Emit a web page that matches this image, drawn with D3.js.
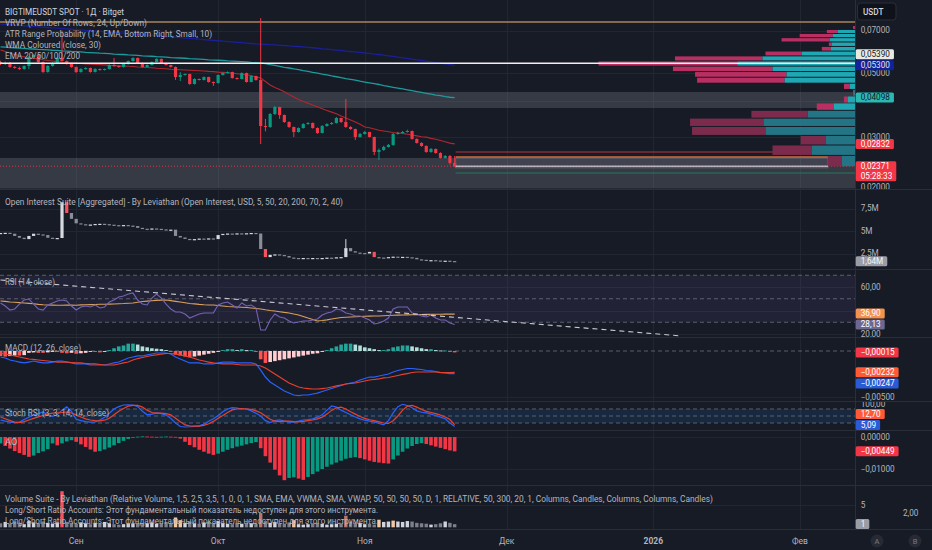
<!DOCTYPE html>
<html><head><meta charset="utf-8">
<script src="https://cdn.jsdelivr.net/npm/d3@7/dist/d3.min.js"></script>
<style>
html,body{margin:0;padding:0;background:#171b26;overflow:hidden}
svg{display:block;font-family:Roboto,"Noto Sans",sans-serif}
</style></head><body>
<svg id="chart" width="932" height="550"></svg>
<script>
// ================= DATA =================
const startDay = "2025-08-16";
const axisEndDay = "2026-02-01";
const monthNames = ["Янв","Фев","Мар","Апр","Май","Июн","Июл","Авг","Сен","Окт","Ноя","Дек"];

const firstOpen = 0.05444;
const closes = [0.05358,0.05401,0.05231,0.05190,0.05148,0.05273,0.05666,0.05757,0.05444,0.05027,
 0.05273,0.05401,0.05621,0.05488,0.05358,0.05231,0.05027,0.05148,0.05190,0.05027,
 0.05148,0.05108,0.05148,0.05315,0.05273,0.05231,0.05358,0.05488,0.05621,0.05401,
 0.05231,0.05315,0.05444,0.05576,0.05401,0.05315,0.05231,0.04830,0.04908,0.04947,
 0.04568,0.04754,0.04716,0.04830,0.04641,0.04604,0.04908,0.04987,0.05027,0.04792,
 0.04754,0.04987,0.04641,0.04869,0.04716,0.03267,0.03241,0.03595,0.03802,0.03566,
 0.03373,0.03241,0.03114,0.03215,0.03319,0.03346,0.03215,0.03090,0.03267,0.03319,
 0.03346,0.03482,0.03373,0.03241,0.03190,0.02993,0.03065,0.03114,0.02993,0.02655,
 0.02698,0.02764,0.02808,0.03065,0.03090,0.03114,0.03139,0.02946,0.02853,0.02786,
 0.02655,0.02720,0.02634,0.02532,0.02572,0.02433,0.02371];
const highs = [0.0550,0.0546,0.0545,0.0528,0.0524,0.0530,0.0571,0.0580,0.0578,0.0547,
 0.0531,0.0543,0.0566,0.0700,0.0551,0.0538,0.0525,0.0518,0.0522,0.0521,
 0.0518,0.0517,0.0517,0.0535,0.0562,0.0530,0.0538,0.0551,0.0565,0.0564,
 0.0542,0.0534,0.0547,0.0561,0.0560,0.0542,0.0533,0.0525,0.0502,0.0497,
 0.0496,0.0478,0.0477,0.0485,0.0484,0.0466,0.0493,0.0501,0.0505,0.0504,
 0.0481,0.0501,0.0500,0.0489,0.0488,0.0773,0.0346,0.0362,0.0383,0.0381,
 0.0358,0.0339,0.0325,0.0323,0.0334,0.0337,0.0336,0.0323,0.0329,0.0334,
 0.0337,0.0351,0.0349,0.0405,0.0326,0.0320,0.0309,0.0314,0.0312,0.0300,
 0.0273,0.0279,0.0283,0.0309,0.0312,0.0314,0.0317,0.0315,0.0296,0.0287,
 0.0280,0.0274,0.0273,0.0265,0.0259,0.0259,0.0257];
const lows = [0.0531,0.0532,0.0520,0.0516,0.0511,0.0512,0.0514,0.0564,0.0541,0.0499,
 0.0500,0.0525,0.0537,0.0546,0.0533,0.0520,0.0499,0.0500,0.0512,0.0500,
 0.0501,0.0508,0.0509,0.0513,0.0524,0.0520,0.0521,0.0533,0.0546,0.0537,
 0.0520,0.0521,0.0529,0.0542,0.0537,0.0529,0.0521,0.0472,0.0468,0.0489,
 0.0454,0.0455,0.0470,0.0470,0.0462,0.0450,0.0458,0.0489,0.0497,0.0477,
 0.0473,0.0474,0.0462,0.0463,0.0469,0.0283,0.0313,0.0322,0.0357,0.0346,
 0.0335,0.0322,0.0299,0.0310,0.0320,0.0330,0.0320,0.0307,0.0308,0.0325,
 0.0330,0.0333,0.0335,0.0322,0.0317,0.0292,0.0298,0.0305,0.0298,0.0259,
 0.0249,0.0268,0.0275,0.0279,0.0305,0.0308,0.0310,0.0293,0.0284,0.0277,
 0.0264,0.0264,0.0262,0.0252,0.0252,0.0240,0.0236];

const wma30 = [0.0599,0.0592,0.0585,0.0578,0.0573,0.0567,0.0563,0.0561,0.0558,0.0554,
 0.0551,0.0549,0.0546,0.0543,0.0541,0.0540,0.0539,0.0538,0.0536,0.0535,
 0.0534,0.0533,0.0532,0.0530,0.0529,0.0528,0.0527,0.0526,0.0525,0.0523,
 0.0522,0.0521,0.0520,0.0518,0.0517,0.0516,0.0514,0.0513,0.0512,0.0511,
 0.0510,0.0509,0.0508,0.0507,0.0505,0.0504,0.0502,0.0501,0.0499,0.0498,
 0.0496,0.0494,0.0492,0.0489,0.0483,0.0479,0.0466,0.0453,0.0444,0.0437,
 0.0429,0.0420,0.0412,0.0404,0.0397,0.0392,0.0386,0.0381,0.0375,0.0370,
 0.0365,0.0360,0.0354,0.0348,0.0343,0.0337,0.0331,0.0324,0.0322,0.0319,
 0.0316,0.0314,0.0312,0.0310,0.0309,0.0308,0.0306,0.0304,0.0302,0.0300,
 0.0299,0.0296,0.0294,0.0291,0.0288,0.0285,0.02832];
const ema100 = [0.0614,0.0613,0.0611,0.0610,0.0608,0.0607,0.0605,0.0604,0.0602,0.0601,
 0.0600,0.0598,0.0597,0.0595,0.0594,0.0592,0.0591,0.0590,0.0588,0.0587,
 0.0586,0.0584,0.0583,0.0582,0.0580,0.0579,0.0578,0.0576,0.0575,0.0574,
 0.0572,0.0571,0.0570,0.0568,0.0567,0.0566,0.0564,0.0563,0.0562,0.0561,
 0.0559,0.0558,0.0557,0.0556,0.0554,0.0553,0.0552,0.0551,0.0549,0.0548,
 0.0547,0.0546,0.0545,0.0543,0.0542,0.0541,0.0537,0.0533,0.0530,0.0526,
 0.0522,0.0519,0.0515,0.0512,0.0508,0.0505,0.0501,0.0498,0.0494,0.0491,
 0.0487,0.0484,0.0481,0.0477,0.0474,0.0471,0.0467,0.0464,0.0461,0.0458,
 0.0455,0.0451,0.0448,0.0445,0.0442,0.0439,0.0436,0.0433,0.0430,0.0427,
 0.0424,0.0421,0.0418,0.0416,0.0413,0.0411,0.04098];
const ema200 = [0.0737,0.0735,0.0733,0.0731,0.0729,0.0727,0.0725,0.0723,0.0721,0.0719,
 0.0717,0.0715,0.0713,0.0711,0.0709,0.0707,0.0705,0.0703,0.0701,0.0699,
 0.0697,0.0695,0.0693,0.0691,0.0689,0.0687,0.0685,0.0683,0.0681,0.0679,
 0.0677,0.0675,0.0673,0.0671,0.0669,0.0667,0.0665,0.0663,0.0661,0.0659,
 0.0657,0.0655,0.0653,0.0651,0.0649,0.0647,0.0645,0.0643,0.0641,0.0639,
 0.0637,0.0635,0.0633,0.0631,0.0629,0.0628,0.0627,0.0625,0.0624,0.0622,
 0.0621,0.0619,0.0617,0.0616,0.0614,0.0612,0.0610,0.0608,0.0605,0.0603,
 0.0601,0.0599,0.0597,0.0594,0.0592,0.0590,0.0588,0.0585,0.0583,0.0580,
 0.0578,0.0575,0.0572,0.0569,0.0566,0.0563,0.0560,0.0557,0.0554,0.0551,
 0.0548,0.0545,0.0542,0.0539,0.0536,0.0533,0.0530];

const topLevel = 0.0749;          // orange horizontal level
const pocPrice = 0.05390;         // VRVP point of control
const zones = [[0.04285, 0.03772], [0.02532, 0.0199]];
const atrUpper = 0.02655, atrUpper2 = 0.02552, atrLower = 0.02245;
const atrBox = [0.0253, 0.0234];

// VRVP: 24 rows, bottom -> top
const vrvpRange = [0.0236, 0.0773];
const vrvpUp   = [13,43,29,89,91,47,21,7,0.5,5,70,68,82,117,92,53,24,23,25,22,17,0,0,0];
const vrvpDown = [14,39,25,73,73,56,17,4,1.5,6,87,91,99,138,87,36,9,3,48,33,11,2,0,0];
const vrvpValueArea = [6, 23];

// Open interest (millions USD)
const oiFirstOpen = 4.75;
const oiClose = [4.78,4.80,4.70,4.45,4.25,4.10,4.45,4.70,4.62,4.55,
 4.25,4.18,4.22,8.20,7.00,6.35,5.85,5.75,5.68,5.72,
 5.78,5.80,5.76,5.70,5.65,5.62,5.66,5.60,5.55,5.35,
 5.25,5.22,5.28,5.24,5.18,5.12,5.15,4.45,4.28,4.12,
 4.05,4.10,4.16,4.12,4.18,4.10,4.55,4.68,4.72,4.66,
 4.74,4.70,4.75,4.78,4.72,3.00,2.10,2.35,2.40,2.33,
 2.22,2.05,2.00,1.98,2.00,1.97,2.00,1.98,2.00,2.04,
 2.00,2.08,2.10,3.10,2.75,2.60,2.55,2.50,2.68,2.10,
 2.05,2.03,2.10,2.15,2.10,2.13,2.08,2.02,1.85,1.80,
 1.75,1.76,1.72,1.70,1.70,1.66,1.64];
const oiWickDays = [73];
const oiWickHighs = [4.1];
const oiAlertDays = [14, 56, 79];

const rsi = [46.4,43.8,40.4,41.3,45.5,48.9,49.8,45.5,41.3,40.4,
 44.7,46.4,48.1,48.9,48.1,43.8,40.4,43.0,43.8,43.0,
 44.7,42.1,43.0,47.2,48.9,51.5,52.3,54.0,54.9,48.9,
 45.5,44.7,50.6,54.0,50.6,45.5,41.3,38.7,38.7,37.0,
 33.6,35.3,37.0,37.9,37.9,37.9,44.7,46.4,47.2,44.7,
 42.1,46.4,43.8,44.7,42.1,23.4,23.4,31.9,37.0,34.5,
 33.6,31.1,29.4,30.2,31.1,31.1,31.9,32.8,36.2,37.9,
 38.7,41.3,40.4,37.9,37.0,35.3,35.3,33.6,31.9,28.5,
 29.4,31.1,33.6,41.3,43.0,43.0,43.0,37.9,37.0,35.3,
 34.5,36.2,33.6,31.9,31.9,29.4,28.13];
const rsiMa = [48.1,47.8,47.2,47.0,46.7,46.4,46.1,45.8,45.2,44.9,
 44.7,44.6,44.5,44.5,44.7,44.6,44.5,44.8,44.9,45.0,
 45.1,45.3,45.3,45.4,45.5,45.7,45.9,46.2,46.4,47.0,
 47.6,48.0,48.3,48.6,48.8,48.9,48.4,47.8,47.2,46.6,
 46.0,45.6,45.2,44.9,44.7,44.7,44.2,43.8,43.4,43.2,
 43.0,42.8,42.5,42.1,41.7,41.3,40.6,40.0,39.6,39.0,
 38.4,37.9,37.0,36.2,34.9,33.6,32.4,31.1,31.5,32.0,
 32.8,33.4,34.0,34.3,34.5,34.7,34.9,35.1,35.2,35.3,
 35.3,35.5,35.7,35.9,36.1,36.2,36.3,36.4,36.5,36.6,
 36.7,36.7,36.8,36.8,36.9,36.9,36.9];
const rsiTrend = [["2025-08-16", 66], ["2026-01-07", 18.3]];

const MACD_UNIT = 1e-5;
const macdLine = [-65,-76,-98,-109,-120,-130,-120,-109,-120,-130,
 -130,-120,-109,-109,-120,-130,-141,-141,-141,-152,
 -152,-152,-152,-141,-130,-120,-98,-76,-65,-54,
 -54,-43,-33,-22,-22,-22,-33,-65,-87,-109,
 -130,-130,-130,-141,-141,-141,-130,-120,-120,-120,
 -130,-130,-130,-130,-141,-207,-283,-337,-370,-402,
 -435,-457,-478,-484,-478,-478,-467,-457,-440,-424,
 -408,-391,-375,-359,-348,-337,-315,-299,-283,-283,
 -272,-261,-250,-228,-212,-201,-190,-190,-196,-201,
 -212,-217,-223,-234,-239,-245,-247];
const macdSignal = [-22,-33,-43,-54,-65,-76,-87,-92,-98,-103,
 -109,-114,-120,-120,-120,-125,-130,-130,-136,-141,
 -141,-147,-152,-152,-152,-141,-130,-120,-98,-82,
 -71,-60,-49,-43,-33,-27,-27,-33,-43,-54,
 -65,-82,-98,-109,-120,-130,-136,-141,-141,-141,
 -147,-152,-152,-152,-152,-163,-185,-217,-250,-283,
 -315,-348,-370,-391,-402,-408,-413,-413,-408,-402,
 -391,-380,-370,-359,-353,-348,-337,-326,-315,-310,
 -304,-293,-288,-277,-266,-255,-245,-234,-228,-228,
 -228,-228,-228,-234,-234,-234,-232];
const macdHist = [-55,-60,-55,-50,-50,-45,-20,-15,-20,-20,
 -15,-10,-10,-20,-25,-20,-30,-25,-20,-10,
 -10,-15,-10,10,30,50,60,80,80,70,
 50,40,30,25,20,10,-10,-40,-50,-60,
 -70,-60,-50,-40,-30,-20,-10,10,20,20,
 10,20,10,10,-10,-90,-130,-120,-110,-100,
 -90,-80,-70,-60,-50,-40,-30,-25,-10,10,
 30,50,70,80,80,70,60,40,30,20,
 10,10,20,40,50,60,60,50,40,30,
 20,20,10,5,5,-10,-15];

const stochK = [33,28,24,22,24,35,45,54,60,67,
 55,48,55,75,89,70,36,30,26,24,
 25,33,45,62,80,90,97,98,97,90,
 70,55,58,63,60,54,40,20,5,3,
 4,6,8,15,28,38,52,68,80,86,
 84,80,80,72,62,50,30,22,30,33,
 28,24,24,28,33,35,38,45,55,75,
 93,88,75,65,55,46,38,32,28,25,
 18,12,30,63,90,100,95,85,72,66,
 63,58,52,45,38,20,5.09];
const stochD = [46,38,30,24,22,26,33,40,46,52,
 58,62,63,65,67,63,55,46,38,33,
 30,29,32,40,55,70,82,92,95,95,
 88,75,65,62,62,60,55,40,25,12,
 8,7,7,10,17,27,40,52,65,76,
 80,82,80,78,72,64,50,36,28,26,
 28,28,26,25,27,30,33,38,45,58,
 74,85,88,80,68,58,48,40,34,30,
 25,20,18,30,50,75,92,95,88,78,
 70,65,60,54,46,35,12.70];

const AO_UNIT = 1e-3;
const ao = [-2.0,-2.8,-3.6,-4.4,-5.0,-5.6,-6.2,-5.8,-5.0,-4.5,
 -3.8,-2.0,-2.6,-2.0,-1.4,-1.0,-1.5,-2.3,-3.1,-3.9,
 -4.6,-4.4,-3.9,-3.3,-2.6,-1.9,-1.2,-0.6,-0.1,0.1,
 0.2,0.15,0.1,0.05,0.1,0.15,0.1,0.05,-0.5,-1.5,
 -2.5,-3.2,-4.0,-4.6,-5.2,-5.6,-5.2,-4.6,-4.0,-3.5,
 -3.0,-2.7,-2.3,-1.9,-1.6,-3.5,-6.0,-8.0,-10.2,-12.0,
 -13.5,-12.8,-12.6,-13.0,-13.4,-12.5,-11.6,-10.8,-10.0,-9.3,
 -8.6,-8.0,-7.4,-6.8,-6.5,-6.3,-6.6,-7.0,-7.4,-7.8,
 -8.0,-8.2,-8.3,-7.0,-5.8,-4.6,-3.6,-2.8,-2.2,-1.9,
 -2.2,-2.6,-3.0,-3.4,-3.8,-4.2,-4.49];

const relVol = [0.9,1.2,0.8,1.3,1.0,0.7,1.4,1.1,0.9,1.3,
 1.0,0.8,1.1,8.1,1.2,1.0,0.8,1.1,0.9,0.7,
 1.0,0.8,1.2,0.9,0.7,0.6,0.7,0.8,0.9,1.0,
 0.7,0.9,1.1,0.8,1.0,1.2,0.9,2.2,1.6,1.0,
 1.3,0.9,0.8,1.1,1.2,0.9,1.4,1.0,0.8,0.7,
 0.9,0.8,1.0,0.9,0.7,3.2,1.4,1.0,1.2,0.9,
 0.8,1.1,1.6,0.7,0.6,0.7,0.9,1.0,0.8,0.6,
 0.7,0.8,0.9,2.6,1.3,0.9,1.0,0.7,0.8,0.6,
 1.7,1.2,1.3,1.5,1.3,1.2,1.4,1.3,1.0,0.9,
 0.8,0.6,0.7,0.9,1.3,1.0,0.7];

const priceTicks = [0.02, 0.03, 0.05, 0.07];
const priceGrid = [0.02, 0.03, 0.04, 0.05, 0.07];
const oiTicks = [2.5, 5, 7.5];
const rsiTicks = [20, 60];
const macdTicks = [-0.005];
const stochTicks = [100];
const aoTicks = [0, -0.01];
const volTicks = [5];

const legendMain = ["BIGTIMEUSDT SPOT · 1Д · Bitget","VRVP (Number Of Rows, 24, Up/Down)",
 "ATR Range Probability (14, EMA, Bottom Right, Small, 10)","WMA Coloured (close, 30)","EMA 20/50/100/200"];
const legendOI = "Open Interest Suite [Aggregated] - By Leviathan (Open Interest, USD, 5, 50, 20, 200, 70, 2, 40)";
const legendVol = ["Volume Suite - By Leviathan (Relative Volume, 1,5, 2,5, 3,5, 1, 0, 0, 1, SMA, EMA, VWMA, SMA, VWAP, 50, 50, 50, 50, D, 1, RELATIVE, 50, 300, 20, 1, Columns, Candles, Columns, Columns, Candles)",
 "Long/Short Ratio Accounts: Этот фундаментальный показатель недоступен для этого инструмента.",
 "Long/Short Ratio Accounts: Этот фундаментальный показатель недоступен для этого инструмента."];
const countdown = "05:28:33";

// ================= DRAW =================
const svg = d3.select("#chart");
const PW = 855;
const C = {bg:"#171b26", grid:"#222631", sep:"#2a2e39", text:"#b2b5be", up:"#089981", down:"#f23645"};
const parse = s => new Date(s + "T00:00:00Z");
const day0 = parse(startDay);
const days = closes.map((_, i) => d3.utcDay.offset(day0, i));
const x = d3.scaleUtc().domain([day0, parse(axisEndDay)]).range([0.5, 800]);
const opens = [firstOpen].concat(closes.slice(0, -1));

const panes = {
  main:{top:0,bottom:189}, oi:{top:190,bottom:269}, rsi:{top:270,bottom:337},
  macd:{top:338,bottom:401}, stoch:{top:402,bottom:430}, ao:{top:431,bottom:485}, vol:{top:486,bottom:529}
};
const yP = d3.scaleLog().domain([0.02, 0.07]).range([187.5, 30.5]);
const yOI = d3.scaleLinear().domain([2.5, 7.5]).range([253.5, 208.5]);
const yR = d3.scaleLinear().domain([20, 60]).range([334, 287]);
const yM = d3.scaleLinear().domain([-0.005, 0]).range([397, 351]);
const yS = d3.scaleLinear().domain([0, 100]).range([427.7, 404.3]);
const yA = d3.scaleLinear().domain([-0.01, 0]).range([469, 437]);
const yV = d3.scaleLinear().domain([0, 5]).range([527.3, 505]);

const loc = d3.formatLocale({decimal:",", thousands:"\u00a0", grouping:[3], currency:["",""], minus:"\u2212"});
const f5 = loc.format(".5f"), f2 = loc.format(".2f"), fg = loc.format("~g");
const fM = v => fg(v) + "M";

svg.append("rect").attr("width", 932).attr("height", 550).attr("fill", C.bg);
const defs = svg.append("defs");
Object.entries(panes).forEach(([k, p]) => {
  defs.append("clipPath").attr("id", "clip-" + k).append("rect")
    .attr("x", 0).attr("y", p.top).attr("width", PW).attr("height", p.bottom - p.top);
  defs.append("clipPath").attr("id", "aclip-" + k).append("rect")
    .attr("x", PW).attr("y", p.top).attr("width", 932 - PW).attr("height", p.bottom - p.top);
});
const G = k => svg.append("g").attr("clip-path", `url(#clip-${k})`);

// vertical month grid
const months = d3.utcMonth.range(parse("2025-09-01"), parse("2026-03-01"));
svg.append("g").selectAll("line").data(months).join("line")
  .attr("x1", d => Math.round(x(d)) + 0.5).attr("x2", d => Math.round(x(d)) + 0.5)
  .attr("y1", 0).attr("y2", 529).attr("stroke", C.grid);

function hGrid(k, ticks, scale) {
  G(k).selectAll("line").data(ticks).join("line")
    .attr("x1", 0).attr("x2", PW).attr("y1", d => Math.round(scale(d)) + 0.5).attr("y2", d => Math.round(scale(d)) + 0.5)
    .attr("stroke", C.grid);
}
hGrid("main", priceGrid, yP); hGrid("oi", oiTicks, yOI); hGrid("rsi", [20, 40, 60], yR);
hGrid("macd", [-0.005], yM); hGrid("ao", aoTicks, yA); hGrid("vol", volTicks, yV);

const lineGen = (scale, unit = 1) => d3.line().x((d, i) => x(days[i])).y(d => scale(d * unit));

// ---------- MAIN PANE ----------
const gm = G("main");
gm.selectAll("rect.zone").data(zones).join("rect").attr("class", "zone")
  .attr("x", 0).attr("width", PW).attr("y", d => yP(d[0])).attr("height", d => yP(d[1]) - yP(d[0]))
  .attr("fill", "rgba(125,128,140,0.31)");
gm.append("line").attr("x1", 0).attr("x2", PW).attr("y1", yP(topLevel)).attr("y2", yP(topLevel))
  .attr("stroke", "#a8865e").attr("stroke-width", 1.4);

gm.append("path").datum(ema200).attr("d", lineGen(yP)).attr("fill", "none").attr("stroke", "#1a1f9c").attr("stroke-width", 1.3);
gm.append("path").datum(ema100).attr("d", lineGen(yP)).attr("fill", "none").attr("stroke", "#1d9a9c").attr("stroke-width", 1.3);
gm.append("path").datum(wma30).attr("d", lineGen(yP)).attr("fill", "none").attr("stroke", "#b3262f").attr("stroke-width", 1.1);

// price dotted line
const lastX = x(days[days.length - 1]);
gm.append("line").attr("x1", 0).attr("x2", PW).attr("y1", yP(closes[closes.length-1])).attr("y2", yP(closes[closes.length-1]))
  .attr("stroke", "#f23645").attr("stroke-dasharray", "1,2").attr("opacity", 0.9);

// candles
const cg = gm.append("g");
closes.forEach((c, i) => {
  const o = opens[i], col = c >= o ? C.up : C.down, cx = x(days[i]);
  cg.append("line").attr("x1", cx).attr("x2", cx).attr("y1", yP(highs[i])).attr("y2", yP(lows[i]))
    .attr("stroke", col).attr("stroke-width", 1);
  const y1 = yP(Math.max(o, c)), y2 = yP(Math.min(o, c));
  cg.append("rect").attr("x", cx - 1.6).attr("width", 3.2).attr("y", y1).attr("height", Math.max(1, y2 - y1)).attr("fill", col);
});

// ATR range probability drawings
gm.append("rect").attr("x", lastX + 1).attr("width", 828 - lastX - 1).attr("y", yP(atrBox[0])).attr("height", yP(atrBox[1]) - yP(atrBox[0]))
  .attr("fill", "rgba(140,143,155,0.12)").attr("stroke", "#62656f").attr("stroke-width", 1);
gm.append("line").attr("x1", lastX + 1).attr("x2", PW).attr("y1", yP(atrUpper)).attr("y2", yP(atrUpper)).attr("stroke", "#b8343e").attr("stroke-width", 1.2);
gm.append("line").attr("x1", lastX + 1).attr("x2", PW).attr("y1", yP(atrUpper2)).attr("y2", yP(atrUpper2)).attr("stroke", "#d26c3e").attr("stroke-width", 1.4);
gm.append("line").attr("x1", lastX + 1).attr("x2", PW).attr("y1", yP(atrLower)).attr("y2", yP(atrLower)).attr("stroke", "#1e7a5c").attr("stroke-width", 1);
gm.append("line").attr("x1", lastX + 1).attr("x2", 828).attr("y1", yP(closes[closes.length-1])).attr("y2", yP(closes[closes.length-1]))
  .attr("stroke", "#e6e6ee").attr("stroke-width", 1);

// VRVP
const rowStep = (vrvpRange[1] - vrvpRange[0]) / vrvpUp.length;
const vMax = d3.max(vrvpUp.map((u, i) => u + vrvpDown[i]));
const wV = d3.scaleLinear().domain([0, vMax]).range([0, 0.3 * PW]);
const vg = gm.append("g");
vrvpUp.forEach((u, i) => {
  const p0 = vrvpRange[0] + i * rowStep, p1 = p0 + rowStep;
  const yt = yP(p1) + 0.5, h = Math.max(0.5, yP(p0) - yP(p1) - 1);
  const inVA = i >= vrvpValueArea[0] && i <= vrvpValueArea[1];
  const d = vrvpDown[i];
  if (u + d <= 0) return;
  vg.append("rect").attr("x", PW - wV(u + d)).attr("width", wV(d)).attr("y", yt).attr("height", h)
    .attr("fill", inVA ? "#b92f62" : "#7d2b4d");
  vg.append("rect").attr("x", PW - wV(u)).attr("width", wV(u)).attr("y", yt).attr("height", h)
    .attr("fill", inVA ? "#1fa8b3" : "#237585");
});
// POC line
gm.append("line").attr("x1", 0).attr("x2", PW).attr("y1", yP(pocPrice)).attr("y2", yP(pocPrice))
  .attr("stroke", "#f0f0f0").attr("stroke-width", 1.6);

// legend
legendMain.forEach((t, i) => {
  svg.append("text").attr("x", 5).attr("y", 14.5 + i * 11.2).text(t)
    .attr("fill", i === 0 ? "#d1d4dc" : C.text).attr("font-size", i === 0 ? 9.5 : 9.3)
    .attr("textLength", [119, 142, 207, 96, 75][i]).attr("lengthAdjust", "spacingAndGlyphs");
});

// ---------- OI PANE ----------
const go = G("oi");
const oiOpens = [oiFirstOpen].concat(oiClose.slice(0, -1));
oiClose.forEach((c, i) => {
  const o = oiOpens[i], cx = x(days[i]);
  let col = c >= o ? "#d7d9df" : "#8a8d97";
  if (oiAlertDays.includes(i)) col = "#f7525f";
  const wi = oiWickDays.indexOf(i);
  if (wi >= 0) go.append("line").attr("x1", cx).attr("x2", cx).attr("y1", yOI(oiWickHighs[wi])).attr("y2", yOI(Math.max(o, c))).attr("stroke", col);
  const y1 = yOI(Math.max(o, c)), y2 = yOI(Math.min(o, c));
  go.append("rect").attr("x", cx - 1.6).attr("width", 3.2).attr("y", y1).attr("height", Math.max(1.2, y2 - y1)).attr("fill", col);
});
svg.append("text").attr("x", 5).attr("y", 204.5).text(legendOI).attr("fill", C.text).attr("font-size", 9.3)
  .attr("textLength", 338).attr("lengthAdjust", "spacingAndGlyphs");

// ---------- RSI PANE ----------
const gr = G("rsi");
gr.append("rect").attr("x", 0).attr("width", PW).attr("y", yR(70)).attr("height", yR(30) - yR(70)).attr("fill", "rgba(126,87,194,0.11)");
[70, 50, 30].forEach(v => gr.append("line").attr("x1", 0).attr("x2", PW).attr("y1", yR(v)).attr("y2", yR(v))
  .attr("stroke", "#787b86").attr("stroke-dasharray", "4,3").attr("opacity", 0.7));
gr.append("path").datum(rsiMa).attr("d", lineGen(yR)).attr("fill", "none").attr("stroke", "#d9a05a").attr("stroke-width", 1.1);
gr.append("path").datum(rsi).attr("d", lineGen(yR)).attr("fill", "none").attr("stroke", "#7462b5").attr("stroke-width", 1.1);
gr.append("line").attr("x1", x(parse(rsiTrend[0][0]))).attr("y1", yR(rsiTrend[0][1]))
  .attr("x2", x(parse(rsiTrend[1][0]))).attr("y2", yR(rsiTrend[1][1]))
  .attr("stroke", "#c8cad2").attr("stroke-width", 1.1).attr("stroke-dasharray", "5,4");
svg.append("text").attr("x", 5).attr("y", 284.5).text("RSI (14, close)").attr("fill", C.text).attr("font-size", 9.3)
  .attr("textLength", 50).attr("lengthAdjust", "spacingAndGlyphs");

// ---------- MACD PANE ----------
const gmac = G("macd");
gmac.append("line").attr("x1", 0).attr("x2", PW).attr("y1", yM(0)).attr("y2", yM(0))
  .attr("stroke", "#787b86").attr("stroke-dasharray", "4,3").attr("opacity", 0.7);
macdHist.forEach((h, i) => {
  const prev = i > 0 ? macdHist[i - 1] : h;
  const col = h >= 0 ? (h >= prev ? "#26a69a" : "#b2dfdb") : (h <= prev ? "#ff5252" : "#ffcdd2");
  const v = h * MACD_UNIT, y0 = yM(0), yv = yM(v);
  gmac.append("rect").attr("x", x(days[i]) - 1.8).attr("width", 3.6)
    .attr("y", Math.min(y0, yv)).attr("height", Math.max(0.8, Math.abs(yv - y0))).attr("fill", col);
});
gmac.append("path").datum(macdLine).attr("d", lineGen(yM, MACD_UNIT)).attr("fill", "none").attr("stroke", "#2962ff").attr("stroke-width", 1.2);
gmac.append("path").datum(macdSignal).attr("d", lineGen(yM, MACD_UNIT)).attr("fill", "none").attr("stroke", "#e8402f").attr("stroke-width", 1.2);
svg.append("text").attr("x", 5).attr("y", 350.5).text("MACD (12, 26, close)").attr("fill", C.text).attr("font-size", 9.3)
  .attr("textLength", 76).attr("lengthAdjust", "spacingAndGlyphs");

// ---------- STOCH RSI ----------
const gs = G("stoch");
gs.append("rect").attr("x", 0).attr("width", PW).attr("y", yS(80)).attr("height", yS(20) - yS(80)).attr("fill", "rgba(33,150,243,0.12)");
[80, 50, 20].forEach(v => gs.append("line").attr("x1", 0).attr("x2", PW).attr("y1", yS(v)).attr("y2", yS(v))
  .attr("stroke", "#787b86").attr("stroke-dasharray", "4,3").attr("opacity", 0.7));
gs.append("path").datum(stochK).attr("d", lineGen(yS)).attr("fill", "none").attr("stroke", "#2962ff").attr("stroke-width", 1.2);
gs.append("path").datum(stochD).attr("d", lineGen(yS)).attr("fill", "none").attr("stroke", "#e8402f").attr("stroke-width", 1.2);
svg.append("text").attr("x", 5).attr("y", 415.5).text("Stoch RSI (3, 3, 14, 14, close)").attr("fill", C.text).attr("font-size", 9.3)
  .attr("textLength", 104).attr("lengthAdjust", "spacingAndGlyphs");

// ---------- AO ----------
const ga = G("ao");
ao.forEach((v, i) => {
  const prev = i > 0 ? ao[i - 1] : v;
  const col = v >= prev ? C.up : C.down;
  const y0 = yA(0), yv = yA(v * AO_UNIT);
  ga.append("rect").attr("x", x(days[i]) - 1.8).attr("width", 3.6)
    .attr("y", Math.min(y0, yv)).attr("height", Math.max(0.8, Math.abs(yv - y0))).attr("fill", col);
});
svg.append("text").attr("x", 5).attr("y", 444.5).text("AO").attr("fill", C.text).attr("font-size", 9.3);

// ---------- VOLUME ----------
const gv = G("vol");
relVol.forEach((v, i) => {
  let col = closes[i] >= opens[i] ? "#d1d4dc" : "#7d808b";
  if (v >= 3.5) col = "#f7525f"; else if (v >= 2.5) col = "#b8776b"; else if (v >= 1.5) col = "#f3c9a2";
  const y0 = yV(0), yv = yV(v);
  gv.append("rect").attr("x", x(days[i]) - 1.7).attr("width", 3.4).attr("y", yv).attr("height", y0 - yv).attr("fill", col);
});
legendVol.forEach((t, i) => {
  svg.append("text").attr("x", 5).attr("y", 501.5 + i * 11.2).text(t).attr("fill", C.text).attr("font-size", 9.3)
    .attr("textLength", i === 0 ? 708 : 373).attr("lengthAdjust", "spacingAndGlyphs");
});

// ---------- separators ----------
Object.values(panes).forEach(p => {
  svg.append("line").attr("x1", 0).attr("x2", 932).attr("y1", p.bottom + 0.5).attr("y2", p.bottom + 0.5).attr("stroke", C.sep);
});
svg.append("line").attr("x1", PW + 0.5).attr("x2", PW + 0.5).attr("y1", 0).attr("y2", 529).attr("stroke", C.sep);

// ---------- RIGHT AXIS ----------
function axisTicks(k, ticks, scale, fmt) {
  svg.append("g").attr("clip-path", `url(#aclip-${k})`).selectAll("text").data(ticks).join("text")
    .attr("x", 860.7).attr("y", d => scale(d)).attr("dy", "0.35em").text(fmt)
    .attr("fill", C.text).attr("font-size", 8.2);
}
axisTicks("main", priceTicks, yP, f5);
axisTicks("oi", oiTicks, yOI, fM);
axisTicks("rsi", rsiTicks, yR, f2);
axisTicks("macd", macdTicks, yM, f5);
axisTicks("stoch", stochTicks, yS, f2);
axisTicks("ao", aoTicks, yA, f5);
axisTicks("vol", volTicks, yV, fg);

function valueLabels(k, items) {
  const p = panes[k], placed = [];
  items.forEach(it => {
    const hh = it.lines ? 21 : 11;
    const want = it.y + (it.lines ? 5 : 0);
    const free = c => c - hh/2 >= p.top && c + hh/2 <= p.bottom + 0.5 &&
      placed.every(q => c + hh/2 <= q.c - q.h/2 + 0.01 || c - hh/2 >= q.c + q.h/2 - 0.01);
    let c = Math.max(p.top + hh/2, Math.min(p.bottom + 0.5 - hh/2, want));
    if (!free(c)) {
      for (let d = 0.25; d < 300; d += 0.25) {
        if (free(c - d)) { c = c - d; break; }
        if (free(c + d)) { c = c + d; break; }
      }
    }
    placed.push({c, h: hh});
    const g = svg.append("g");
    const texts = it.lines || [it.text];
    const rect = g.append("rect").attr("x", 855.7).attr("y", c - hh/2 + 0.5).attr("height", hh - 1)
      .attr("rx", 1.5).attr("fill", it.bg);
    let maxW = 0;
    texts.forEach((t, j) => {
      const tx = g.append("text").attr("x", 860.7).attr("y", c + (texts.length > 1 ? (j === 0 ? -5 : 5) : 0)).attr("dy", "0.35em")
        .text(t).attr("fill", it.fg).attr("font-size", 8.2);
      maxW = Math.max(maxW, tx.node().getComputedTextLength());
    });
    rect.attr("width", maxW + 9);
  });
}
const lastI = closes.length - 1;
valueLabels("main", [
  {y: yP(closes[lastI]), lines: [f5(closes[lastI]), countdown], bg: "#f23645", fg: "#ffffff"},
  {y: yP(wma30[lastI]), text: f5(wma30[lastI]), bg: "#f23645", fg: "#ffffff"},
  {y: yP(ema100[lastI]), text: f5(ema100[lastI]), bg: "#2bb8b2", fg: "#131722"},
  {y: yP(ema200[lastI]), text: f5(ema200[lastI]), bg: "#13229b", fg: "#e0e3eb"},
  {y: yP(pocPrice), text: f5(pocPrice), bg: "#e9e9e4", fg: "#131722"}
]);
valueLabels("oi", [{y: yOI(oiClose[lastI]), text: fM(oiClose[lastI]), bg: "#9a9da6", fg: "#f5f6f8"}]);
valueLabels("rsi", [
  {y: yR(rsi[lastI]), text: f2(rsi[lastI]), bg: "#6c6890", fg: "#ffffff"},
  {y: yR(rsiMa[lastI]), text: f2(rsiMa[lastI]), bg: "#f39250", fg: "#ffffff"}
]);
valueLabels("macd", [
  {y: yM(macdHist[lastI] * MACD_UNIT), text: f5(macdHist[lastI] * MACD_UNIT), bg: "#f23645", fg: "#ffffff"},
  {y: yM(macdSignal[lastI] * MACD_UNIT), text: f5(macdSignal[lastI] * MACD_UNIT), bg: "#ff5a36", fg: "#ffffff"},
  {y: yM(macdLine[lastI] * MACD_UNIT), text: f5(macdLine[lastI] * MACD_UNIT), bg: "#2a5bd7", fg: "#ffffff"}
]);
valueLabels("stoch", [
  {y: yS(stochK[lastI]), text: f2(stochK[lastI]), bg: "#2a5bd7", fg: "#ffffff"},
  {y: yS(stochD[lastI]), text: f2(stochD[lastI]), bg: "#ff5a36", fg: "#ffffff"}
]);
valueLabels("ao", [{y: yA(ao[lastI] * AO_UNIT), text: f5(ao[lastI] * AO_UNIT), bg: "#f23645", fg: "#ffffff"}]);
valueLabels("vol", [{y: yV(relVol[lastI]), text: fg(Math.round(relVol[lastI])), bg: "#9a9da6", fg: "#f5f6f8"}]);

// USDT box
svg.append("rect").attr("x", 857.5).attr("y", 3).attr("width", 38.5).attr("height", 17).attr("rx", 3)
  .attr("fill", "#0f121a").attr("stroke", "#2a2e39");
svg.append("text").attr("x", 863).attr("y", 11.7).attr("dy", "0.35em").text("USDT").attr("fill", "#d1d4dc").attr("font-size", 8.2).attr("font-weight", 500);

// extra scale text
svg.append("text").attr("x", 903).attr("y", 513).attr("dy", "0.35em").text(f2(2)).attr("fill", C.text).attr("font-size", 8.2);

// ---------- TIME AXIS ----------
svg.append("g").selectAll("text").data(months).join("text")
  .attr("x", d => x(d)).attr("y", 541).attr("dy", "0.35em").attr("text-anchor", "middle")
  .text(d => d.getUTCMonth() === 0 ? String(d.getUTCFullYear()) : monthNames[d.getUTCMonth()])
  .attr("font-weight", d => d.getUTCMonth() === 0 ? 700 : 400)
  .attr("fill", C.text).attr("font-size", 8.5);
[["A", 877], ["B", 915]].forEach(([t, cx]) => {
  svg.append("circle").attr("cx", cx).attr("cy", 541).attr("r", 6.5).attr("fill", "#262a35");
  svg.append("text").attr("x", cx).attr("y", 541).attr("dy", "0.35em").attr("text-anchor", "middle").text(t)
    .attr("fill", "#787b86").attr("font-size", 7.5);
});
</script></body></html>
